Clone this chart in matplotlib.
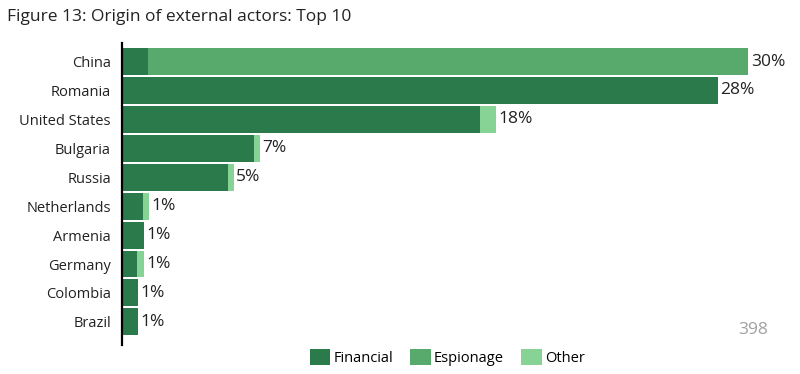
import numpy as np
import matplotlib.pyplot as plt
from matplotlib.patches import Patch

plt.rcParams['font.family'] = ['Open Sans', 'DejaVu Sans']

# Data (share of incidents, %)
countries = ["China", "Romania", "United States", "Bulgaria", "Russia",
             "Netherlands", "Armenia", "Germany", "Colombia", "Brazil"]
financial = [1.25, 28.55, 17.15, 6.3, 5.1, 1.0, 1.05, 0.72, 0.77, 0.77]
espionage = [28.75, 0, 0, 0, 0, 0, 0, 0, 0, 0]
other = [0, 0, 0.77, 0.3, 0.25, 0.3, 0, 0.33, 0, 0]
labels = ["30%", "28%", "18%", "7%", "5%", "1%", "1%", "1%", "1%", "1%"]

colors = {"Financial": "#2b7a4b", "Espionage": "#57aa6c", "Other": "#86d395"}

fig = plt.figure(figsize=(8, 3.74), dpi=100)
ax = fig.add_axes([0.1525, 0.0775, 0.835, 0.8075])

y = np.arange(len(countries))
fin = np.array(financial)
esp = np.array(espionage)
oth = np.array(other)
h = 0.93

ax.barh(y, fin, height=h, color=colors["Financial"], edgecolor='none')
ax.barh(y, esp, left=fin, height=h, color=colors["Espionage"], edgecolor='none')
ax.barh(y, oth, left=fin + esp, height=h, color=colors["Other"], edgecolor='none')

totals = fin + esp + oth
for yi, tot, lab in zip(y, totals, labels):
    ax.text(tot + 0.12, yi, lab, va='center', ha='left', fontsize=12.5, color='#222222')

ax.set_yticks(y)
ax.set_yticklabels(countries, fontsize=10.5, color='#222222')
ax.tick_params(axis='y', length=0, pad=8)
ax.set_xticks([])
ax.set_xlim(0, 32)
ax.set_ylim(9.8, -0.64)
for s in ['top', 'right', 'bottom']:
    ax.spines[s].set_visible(False)
ax.spines['left'].set_linewidth(1.6)
ax.spines['left'].set_color('black')

fig.text(0.009, 0.955, "Figure 13: Origin of external actors: Top 10",
         fontsize=12.5, va='center', ha='left', color='#222222')
fig.text(0.941, 0.118, "398", fontsize=12.5, color='#a0a0a0', ha='center', va='center')

handles = [Patch(facecolor=colors[k], label=k) for k in ["Financial", "Espionage", "Other"]]
fig.legend(handles=handles, loc='center', bbox_to_anchor=(0.559, 0.045), ncol=3,
           frameon=False, fontsize=10.5, handlelength=1.4, handleheight=1.3,
           handletextpad=0.2, columnspacing=1.2)

fig.savefig("out.png", dpi=100)
